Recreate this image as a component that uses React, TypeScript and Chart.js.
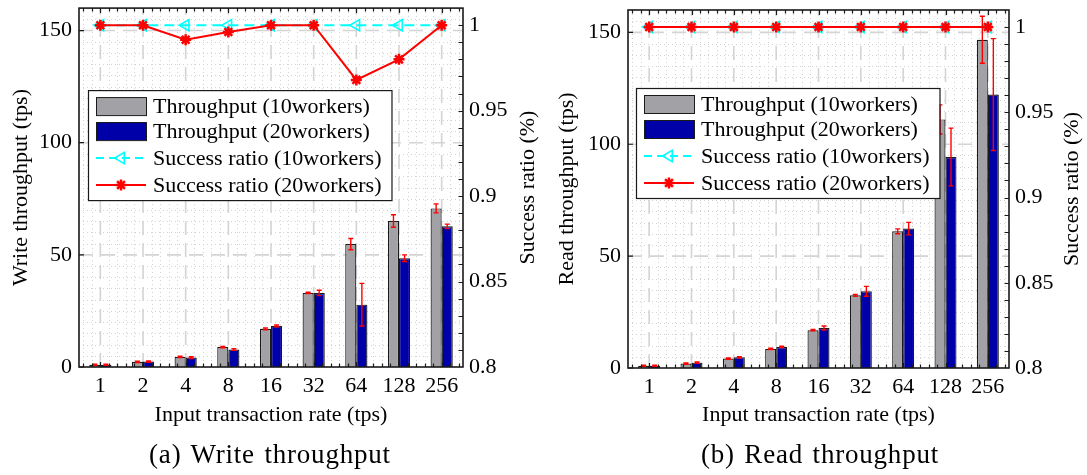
import React, { useEffect, useRef } from 'react';
import { Chart, registerables } from 'chart.js';

Chart.register(...registerables);

const SERIF = "'Liberation Serif', 'Times New Roman', Times, serif";

// Input transaction rates (x categories)
const rates = ['1', '2', '4', '8', '16', '32', '64', '128', '256'];

// Write workload: mean throughput (tps) and error half-widths
const writeTput10 = [1.0, 2.3, 4.5, 8.9, 17.0, 33.0, 54.8, 65.1, 70.7];
const writeTput20 = [1.0, 2.4, 4.2, 7.8, 18.3, 33.0, 27.8, 48.5, 62.7];
const writeErr10 = [0.2, 0.3, 0.3, 0.3, 0.4, 0.3, 2.5, 2.8, 2.0];
const writeErr20 = [0.2, 0.3, 0.4, 0.4, 0.4, 1.2, 9.5, 1.5, 1.0];
const writeOk10 = [1, 1, 1, 1, 1, 1, 1, 1, 1];
const writeOk20 = [1, 1, 0.9915, 0.996, 1, 1, 0.968, 0.98, 1];

// Read workload
const readTput10 = [1.0, 2.0, 4.2, 8.5, 16.9, 32.5, 61.1, 111.1, 146.7];
const readTput20 = [1.0, 2.4, 4.8, 9.4, 17.9, 34.3, 62.3, 94.3, 122.2];
const readErr10 = [0.2, 0.3, 0.3, 0.3, 0.3, 0.4, 1.1, 6.5, 10.5];
const readErr20 = [0.2, 0.3, 0.3, 0.3, 0.9, 2.2, 2.8, 12.9, 25.0];
const readOk10 = [1, 1, 1, 1, 1, 1, 1, 1, 1];
const readOk20 = [1, 1, 1, 1, 1, 1, 1, 1, 1];

// Axis ticks
const tputTicks = [0, 50, 100, 150];
const ratioTicks = [0.8, 0.85, 0.9, 0.95, 1];

const GRAY = '#a2a2a6';
const BLUE = '#0000a8';
const CYAN = '#00ffff';
const RED = '#ff0000';
const INK = '#1a1a1a';

const legendItems = [
  { text: 'Throughput (10workers)', kind: 'box', color: GRAY },
  { text: 'Throughput (20workers)', kind: 'box', color: BLUE },
  { text: 'Success ratio (10workers)', kind: 'tri', color: CYAN },
  { text: 'Success ratio (20workers)', kind: 'star', color: RED },
];

function drawTriangleLeft(ctx: CanvasRenderingContext2D, x: number, y: number, r: number) {
  ctx.beginPath();
  ctx.moveTo(x - r, y);
  ctx.lineTo(x + r * 0.5, y - r * 0.866);
  ctx.lineTo(x + r * 0.5, y + r * 0.866);
  ctx.closePath();
  ctx.stroke();
}

function drawStar(ctx: CanvasRenderingContext2D, x: number, y: number, r: number) {
  ctx.beginPath();
  for (let k = 0; k < 4; k++) {
    const a = (k * Math.PI) / 4;
    ctx.moveTo(x - Math.cos(a) * r, y - Math.sin(a) * r);
    ctx.lineTo(x + Math.cos(a) * r, y + Math.sin(a) * r);
  }
  ctx.stroke();
}

// Remove the automatic label overhang padding so the plot box sits where the layout says
function fixPadding(s: any) {
  s.paddingTop = 0;
  s.paddingBottom = 0;
  s.paddingLeft = 0;
  s.paddingRight = 0;
}

const panelDecor = {
  id: 'panelDecor',
  beforeDatasetsDraw(chart: any) {
    const { ctx, chartArea: a, scales } = chart;
    const xs = scales.x;
    const ys = scales.y;
    const x0 = xs.getPixelForValue(0);
    const step = xs.getPixelForValue(1) - x0;
    const n = chart.data.labels.length;
    ctx.save();
    ctx.beginPath();
    ctx.rect(a.left, a.top, a.right - a.left, a.bottom - a.top);
    ctx.clip();
    // fine dotted grid
    ctx.strokeStyle = '#d2d2d2';
    ctx.lineWidth = 1;
    ctx.setLineDash([1, 3]);
    ctx.beginPath();
    for (let k = -2; k <= (n - 1) * 5 + 2; k++) {
      if (k % 5 === 0) continue;
      const px = Math.round(x0 + (k * step) / 5) + 0.5;
      ctx.moveTo(px, a.top);
      ctx.lineTo(px, a.bottom);
    }
    for (let v = 5; v < ys.max; v += 5) {
      if (v % 50 === 0) continue;
      const py = Math.round(ys.getPixelForValue(v)) + 0.5;
      ctx.moveTo(a.left, py);
      ctx.lineTo(a.right, py);
    }
    ctx.stroke();
    // main dashed grid
    ctx.strokeStyle = '#d4d4d4';
    ctx.lineWidth = 1.6;
    ctx.setLineDash([14, 8]);
    ctx.beginPath();
    for (let i = 0; i < n; i++) {
      const px = xs.getPixelForValue(i);
      ctx.moveTo(px, a.bottom);
      ctx.lineTo(px, a.top);
    }
    for (const v of tputTicks) {
      if (v === 0) continue;
      const py = ys.getPixelForValue(v);
      ctx.moveTo(a.left, py);
      ctx.lineTo(a.right, py);
    }
    ctx.stroke();
    ctx.restore();
  },
  afterDatasetsDraw(chart: any, _args: any, opts: any) {
    const { ctx, chartArea: a, scales } = chart;
    const ys = scales.y;
    const y1 = scales.y1;
    const xs = scales.x;
    ctx.save();
    // error bars on the throughput bars
    ctx.strokeStyle = RED;
    ctx.lineWidth = 1.4;
    ctx.setLineDash([]);
    (opts.errors || []).forEach((errs: number[], di: number) => {
      const meta = chart.getDatasetMeta(di);
      const vals = chart.data.datasets[di].data as number[];
      meta.data.forEach((bar: any, i: number) => {
        const hi = ys.getPixelForValue(vals[i] + errs[i]);
        const lo = ys.getPixelForValue(vals[i] - errs[i]);
        ctx.beginPath();
        ctx.moveTo(bar.x, hi);
        ctx.lineTo(bar.x, lo);
        ctx.moveTo(bar.x - 2.5, hi);
        ctx.lineTo(bar.x + 2.5, hi);
        ctx.moveTo(bar.x - 2.5, lo);
        ctx.lineTo(bar.x + 2.5, lo);
        ctx.stroke();
      });
    });
    // inward tick marks
    const x0 = xs.getPixelForValue(0);
    const step = xs.getPixelForValue(1) - x0;
    const n = chart.data.labels.length;
    ctx.strokeStyle = INK;
    ctx.lineWidth = 1.2;
    ctx.beginPath();
    for (let k = -2; k <= (n - 1) * 5 + 2; k++) {
      const px = Math.round(x0 + (k * step) / 5) + 0.5;
      const len = k % 5 === 0 ? 5 : 3.5;
      ctx.moveTo(px, a.top);
      ctx.lineTo(px, a.top + len);
      ctx.moveTo(px, a.bottom);
      ctx.lineTo(px, a.bottom - len);
    }
    for (const v of tputTicks) {
      const py = ys.getPixelForValue(v);
      ctx.moveTo(a.left, py);
      ctx.lineTo(a.left + 5, py);
    }
    for (let k = 81; k <= 100; k++) {
      const py = Math.round(y1.getPixelForValue(k / 100)) + 0.5;
      ctx.moveTo(a.right, py);
      ctx.lineTo(a.right - 4.5, py);
    }
    ctx.stroke();
    // frame
    ctx.lineWidth = 1.6;
    ctx.strokeRect(a.left, a.top, a.right - a.left, a.bottom - a.top);
    ctx.restore();
  },
  afterDraw(chart: any, _args: any, opts: any) {
    const { ctx, chartArea: a } = chart;
    ctx.save();
    // right axis title, reading bottom to top
    ctx.font = `22px ${SERIF}`;
    ctx.fillStyle = '#000';
    ctx.textAlign = 'center';
    ctx.textBaseline = 'middle';
    ctx.translate(opts.rightTitleX, (a.top + a.bottom) / 2);
    ctx.rotate(-Math.PI / 2);
    ctx.fillText(opts.rightTitle, 0, 0);
    ctx.restore();

    // legend box
    ctx.save();
    ctx.font = `22px ${SERIF}`;
    const tw = Math.max(...legendItems.map((it) => ctx.measureText(it.text).width));
    const bx = a.left + opts.legendX;
    const by = a.top + opts.legendY;
    const bw = 65 + tw + 10;
    const bh = 110;
    ctx.fillStyle = '#fff';
    ctx.fillRect(bx, by, bw, bh);
    ctx.strokeStyle = INK;
    ctx.lineWidth = 1.2;
    ctx.strokeRect(bx + 0.5, by + 0.5, bw, bh);
    const rows = [16, 41, 68, 95];
    legendItems.forEach((it, i) => {
      const cy = by + rows[i];
      const sx = bx + 8;
      if (it.kind === 'box') {
        ctx.fillStyle = it.color;
        ctx.fillRect(sx, cy - 9, 50, 18);
        ctx.strokeStyle = INK;
        ctx.lineWidth = 1;
        ctx.strokeRect(sx + 0.5, cy - 9 + 0.5, 50, 18);
      } else if (it.kind === 'tri') {
        ctx.strokeStyle = it.color;
        ctx.lineWidth = 2;
        ctx.setLineDash([8, 5]);
        ctx.beginPath();
        ctx.moveTo(sx, cy);
        ctx.lineTo(sx + 50, cy);
        ctx.stroke();
        ctx.setLineDash([]);
        ctx.lineWidth = 1.6;
        drawTriangleLeft(ctx, sx + 25, cy, 6.5);
      } else {
        ctx.strokeStyle = it.color;
        ctx.lineWidth = 2;
        ctx.beginPath();
        ctx.moveTo(sx, cy);
        ctx.lineTo(sx + 50, cy);
        ctx.stroke();
        ctx.lineWidth = 2.5;
        drawStar(ctx, sx + 25, cy, 5.5);
      }
      ctx.fillStyle = '#000';
      ctx.textAlign = 'left';
      ctx.textBaseline = 'middle';
      ctx.fillText(it.text, bx + 65, cy + 1);
    });
    ctx.restore();
  },
};

type PanelProps = {
  left: number;
  width: number;
  height: number;
  padTop: number;
  yWidth: number;
  y1Width: number;
  xHeight: number;
  yTitle: string;
  tput10: number[];
  tput20: number[];
  err10: number[];
  err20: number[];
  ok10: number[];
  ok20: number[];
  legendX: number;
  legendY: number;
  rightTitleX: number;
  yTitlePad: number;
};

function Panel(p: PanelProps) {
  const ref = useRef<HTMLCanvasElement | null>(null);
  useEffect(() => {
    if (!ref.current) return;
    const font = { family: SERIF, size: 22 };
    const chart = new Chart(ref.current, {
      type: 'bar',
      data: {
        labels: rates,
        datasets: [
          {
            type: 'bar',
            label: 'Throughput (10workers)',
            data: p.tput10,
            backgroundColor: GRAY,
            borderColor: INK,
            borderWidth: 1.2,
            yAxisID: 'y',
            order: 2,
            categoryPercentage: 0.52,
            barPercentage: 1,
          },
          {
            type: 'bar',
            label: 'Throughput (20workers)',
            data: p.tput20,
            backgroundColor: BLUE,
            borderColor: INK,
            borderWidth: 1.2,
            yAxisID: 'y',
            order: 2,
            categoryPercentage: 0.52,
            barPercentage: 1,
          },
          {
            type: 'line',
            label: 'Success ratio (10workers)',
            data: p.ok10,
            yAxisID: 'y1',
            borderColor: CYAN,
            borderWidth: 2,
            borderDash: [10, 6],
            pointStyle: 'triangle',
            rotation: -90,
            pointRadius: 6.5,
            pointBorderColor: CYAN,
            pointBackgroundColor: 'rgba(0,0,0,0)',
            pointBorderWidth: 1.6,
            fill: false,
            tension: 0,
            order: 1,
          },
          {
            type: 'line',
            label: 'Success ratio (20workers)',
            data: p.ok20,
            yAxisID: 'y1',
            borderColor: RED,
            borderWidth: 2,
            pointStyle: 'star',
            pointRadius: 5.5,
            pointBorderColor: RED,
            pointBackgroundColor: RED,
            pointBorderWidth: 2.5,
            fill: false,
            tension: 0,
            order: 0,
          },
        ],
      } as any,
      options: {
        animation: false,
        responsive: false,
        maintainAspectRatio: false,
        layout: { padding: { top: p.padTop, left: 0, right: 0, bottom: 0 } },
        plugins: {
          legend: { display: false },
          tooltip: { enabled: false },
          panelDecor: {
            errors: [p.err10, p.err20],
            legendX: p.legendX,
            legendY: p.legendY,
            rightTitle: 'Success ratio (%)',
            rightTitleX: p.rightTitleX,
          },
        } as any,
        scales: {
          x: {
            offset: true,
            grid: { display: false, drawTicks: false },
            border: { display: false },
            ticks: { font, color: '#000', padding: 6, maxRotation: 0, autoSkip: false },
            title: {
              display: true,
              text: 'Input transaction rate (tps)',
              font,
              color: '#000',
              padding: { top: 0, bottom: 12 },
            },
            afterFit: (s: any) => {
              s.height = p.xHeight;
              fixPadding(s);
            },
          },
          y: {
            position: 'left',
            min: 0,
            max: 160,
            grid: { display: false, drawTicks: false },
            border: { display: false },
            afterBuildTicks: (s: any) => {
              s.ticks = tputTicks.map((v) => ({ value: v }));
            },
            ticks: { font, color: '#000', padding: 7 },
            title: {
              display: true,
              text: p.yTitle,
              font,
              color: '#000',
              padding: { top: p.yTitlePad, bottom: 0 },
            },
            afterFit: (s: any) => {
              s.width = p.yWidth;
              fixPadding(s);
            },
          },
          y1: {
            position: 'right',
            min: 0.8,
            max: 1.01,
            grid: { display: false, drawTicks: false },
            border: { display: false },
            afterBuildTicks: (s: any) => {
              s.ticks = ratioTicks.map((v) => ({ value: v }));
            },
            ticks: {
              font,
              color: '#000',
              padding: 6,
              callback: (v: any) => String(Number(Number(v).toFixed(2))),
            },
            afterFit: (s: any) => {
              s.width = p.y1Width;
              fixPadding(s);
            },
          },
        },
      } as any,
      plugins: [panelDecor as any],
    });
    return () => chart.destroy();
  }, []);
  return (
    <canvas
      ref={ref}
      width={p.width}
      height={p.height}
      style={{ position: 'absolute', left: p.left, top: 0, width: p.width, height: p.height }}
    />
  );
}

const captionStyle: React.CSSProperties = {
  position: 'absolute',
  top: 440,
  width: 400,
  textAlign: 'center',
  fontFamily: SERIF,
  fontSize: 27,
  lineHeight: '28px',
  letterSpacing: '0.8px',
  wordSpacing: '2px',
  color: '#000',
  whiteSpace: 'nowrap',
};

export default function App() {
  return (
    <div style={{ position: 'absolute', left: 0, top: 0, width: 1087, height: 475, background: '#fff', overflow: 'hidden' }}>
      <Panel
        left={0}
        width={545}
        height={440}
        padTop={6}
        yWidth={79}
        y1Width={82}
        xHeight={73}
        yTitle="Write throughput (tps)"
        tput10={writeTput10}
        tput20={writeTput20}
        err10={writeErr10}
        err20={writeErr20}
        ok10={writeOk10}
        ok20={writeOk20}
        legendX={9}
        legendY={82}
        rightTitleX={528}
        yTitlePad={8}
      />
      <Panel
        left={545}
        width={542}
        height={440}
        padTop={10}
        yWidth={83}
        y1Width={78}
        xHeight={72}
        yTitle="Read throughput (tps)"
        tput10={readTput10}
        tput20={readTput20}
        err10={readErr10}
        err20={readErr20}
        ok10={readOk10}
        ok20={readOk20}
        legendX={8}
        legendY={78}
        rightTitleX={527}
        yTitlePad={9}
      />
      <div style={{ ...captionStyle, left: 270 - 200 }}>(a) Write throughput</div>
      <div style={{ ...captionStyle, left: 820 - 200 }}>(b) Read throughput</div>
    </div>
  );
}
